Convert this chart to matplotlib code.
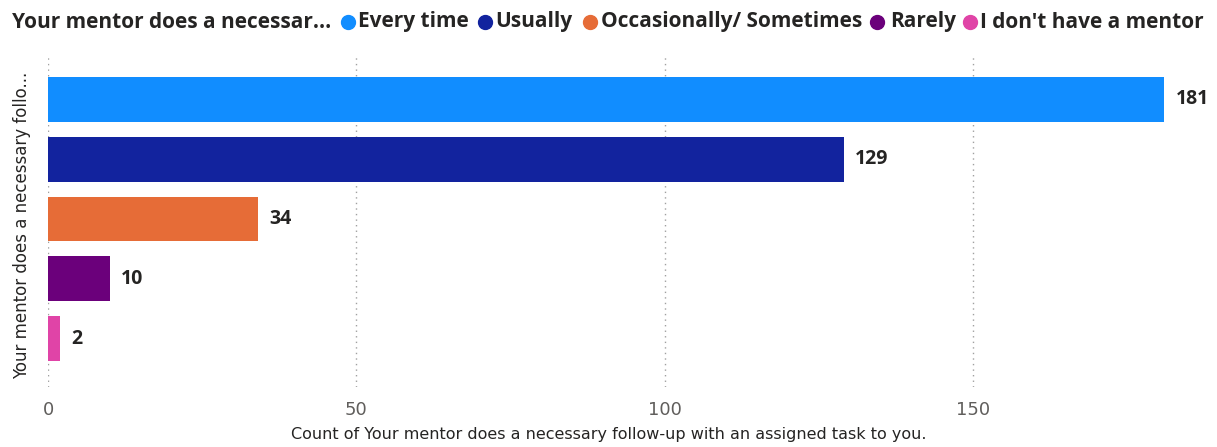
import matplotlib
matplotlib.use("Agg")
import matplotlib.pyplot as plt
from matplotlib.lines import Line2D

categories = ["Every time", "Usually", "Occasionally/ Sometimes", "Rarely", "I don't have a mentor"]
values = [181, 129, 34, 10, 2]
colors = ["#118DFF", "#12239E", "#E66C37", "#6B007B", "#E044A7"]
xticks = [0, 50, 100, 150]
legend_title = "Your mentor does a necessar..."
ylabel = "Your mentor does a necessary follo..."
xlabel = "Count of Your mentor does a necessary follow-up with an assigned task to you."

W, H = 1217, 447
fig = plt.figure(figsize=(W / 100, H / 100), dpi=100)
ax = fig.add_axes([48 / W, 1 - 387 / H, (1170 - 48) / W, (387 - 57) / H])

ypos = list(range(len(categories)))
ax.barh(ypos, values, height=0.75, color=colors)
ax.set_ylim(4.81, -0.71)
ax.set_xlim(0, 181.9)

for y, v in zip(ypos, values):
    ax.text(v + 1.8, y, str(v), va="center", ha="left", fontsize=14,
            fontweight="bold", color="#252423", family="Open Sans")

ax.set_xticks(xticks)
ax.set_xticklabels([str(t) for t in xticks], fontsize=13, color="#605E5C")
ax.set_yticks([])
ax.tick_params(axis="x", length=0, pad=10)
ax.grid(axis="x", linestyle=(0, (1, 3)), color="#A0A0A0", linewidth=1)
ax.set_axisbelow(True)
for s in ax.spines.values():
    s.set_visible(False)

ax.set_xlabel(xlabel, fontsize=11.5, color="#252423", labelpad=6)
fig.text(22 / W, 1 - 225 / H, ylabel, rotation=90, ha="center", va="center",
         fontsize=12, color="#252423")

# legend
ty = 1 - 22 / H
fig.text(12 / W, ty, legend_title, ha="left", va="center", fontsize=15,
         fontweight="bold", color="#252423", family="Open Sans")
marker_x = [348, 485, 590, 877, 970]
text_x = [358, 495, 601, 890, 980]
for mx, tx, lab, c in zip(marker_x, text_x, categories, colors):
    fig.add_artist(Line2D([mx / W], [ty], marker="o", markersize=10, color=c,
                          linestyle="none", transform=fig.transFigure))
    fig.text(tx / W, ty, lab, ha="left", va="center", fontsize=15,
             fontweight="bold", color="#252423", family="Open Sans")

fig.savefig("out.png", dpi=100, facecolor="white")
